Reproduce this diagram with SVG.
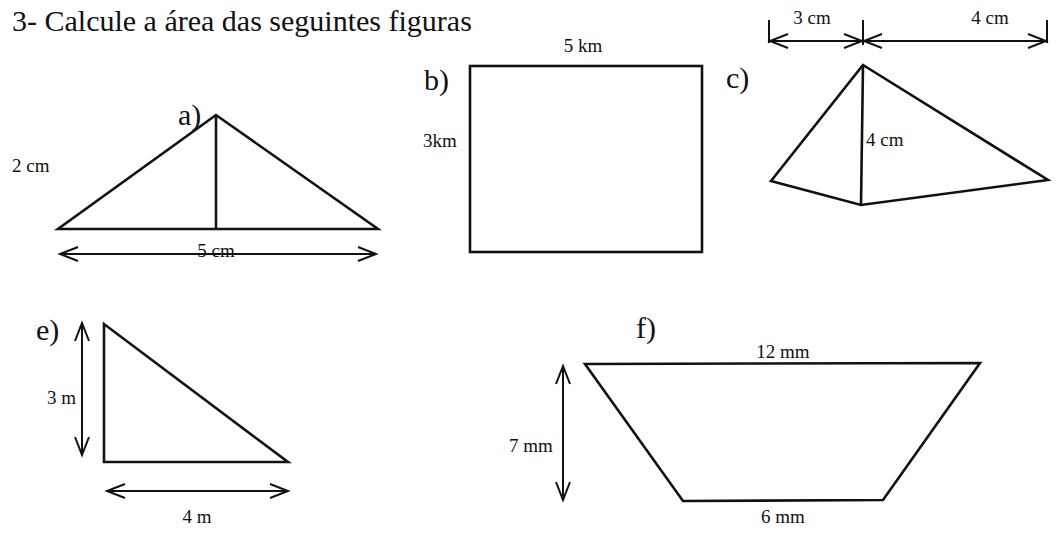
<svg xmlns="http://www.w3.org/2000/svg" width="1056" height="540" viewBox="0 0 1056 540">
<style>
.shape{fill:none;stroke:#111;stroke-width:2.6;stroke-linejoin:miter}
.dim{fill:none;stroke:#111;stroke-width:2}
.lbl{font-family:'Liberation Serif','DejaVu Serif',serif;font-size:19px;fill:#111}
.sec{font-family:'Liberation Serif','DejaVu Serif',serif;font-size:30px;fill:#111}
</style>
<defs>
<marker id="ah" markerUnits="userSpaceOnUse" markerWidth="24" markerHeight="20" refX="19" refY="8" orient="auto-start-reverse" viewBox="0 0 24 20">
<path d="M1,1 L19,8 L1,15" fill="none" stroke="#111" stroke-width="2"/>
</marker>
</defs>
<rect width="1056" height="540" fill="#fff"/>
<text class="sec" x="12" y="31">3- Calcule a área das seguintes figuras</text>

<g id="fig-a">
<polygon class="shape" points="216,115 58,229 378,229"/>
<line class="shape" x1="216" y1="115" x2="216" y2="229"/>
<text class="sec" x="178" y="125">a)</text>
<text class="lbl" x="12" y="172">2 cm</text>
<line class="dim" x1="60" y1="254" x2="376" y2="254" marker-start="url(#ah)" marker-end="url(#ah)"/>
<text class="lbl" x="216" y="257" text-anchor="middle">5 cm</text>
</g>

<g id="fig-b">
<rect class="shape" x="470" y="66" width="232" height="186"/>
<text class="sec" x="424" y="90">b)</text>
<text class="lbl" x="583" y="52" text-anchor="middle">5 km</text>
<text class="lbl" x="423" y="147">3km</text>
</g>

<g id="fig-c">
<line class="dim" x1="769" y1="20" x2="769" y2="43"/>
<line class="dim" x1="863" y1="20" x2="863" y2="45"/>
<line class="dim" x1="1047" y1="20" x2="1047" y2="43"/>
<line class="dim" x1="770" y1="41" x2="862" y2="41" marker-start="url(#ah)" marker-end="url(#ah)"/>
<line class="dim" x1="864" y1="41" x2="1046" y2="41" marker-start="url(#ah)" marker-end="url(#ah)"/>
<text class="lbl" x="812" y="24" text-anchor="middle">3 cm</text>
<text class="lbl" x="990" y="24" text-anchor="middle">4 cm</text>
<text class="sec" x="726" y="88">c)</text>
<polygon class="shape" points="863,65 1048,180 861,205 771,181"/>
<line class="shape" x1="863" y1="65" x2="861" y2="205"/>
<text class="lbl" x="866" y="146">4 cm</text>
</g>

<g id="fig-e">
<text class="sec" x="36" y="340">e)</text>
<polygon class="shape" points="104,324 104,462 288,462"/>
<line class="dim" x1="82" y1="323" x2="82" y2="455" marker-start="url(#ah)" marker-end="url(#ah)"/>
<text class="lbl" x="47" y="404">3 m</text>
<line class="dim" x1="107" y1="491" x2="288" y2="491" marker-start="url(#ah)" marker-end="url(#ah)"/>
<text class="lbl" x="197" y="523" text-anchor="middle">4 m</text>
</g>

<g id="fig-f">
<text class="sec" x="636" y="338">f)</text>
<polygon class="shape" points="585,364 980,363 883,500 683,501"/>
<text class="lbl" x="783" y="358" text-anchor="middle">12 mm</text>
<line class="dim" x1="563" y1="366" x2="563" y2="500" marker-start="url(#ah)" marker-end="url(#ah)"/>
<text class="lbl" x="509" y="452">7 mm</text>
<text class="lbl" x="783" y="523" text-anchor="middle">6 mm</text>
</g>
</svg>
